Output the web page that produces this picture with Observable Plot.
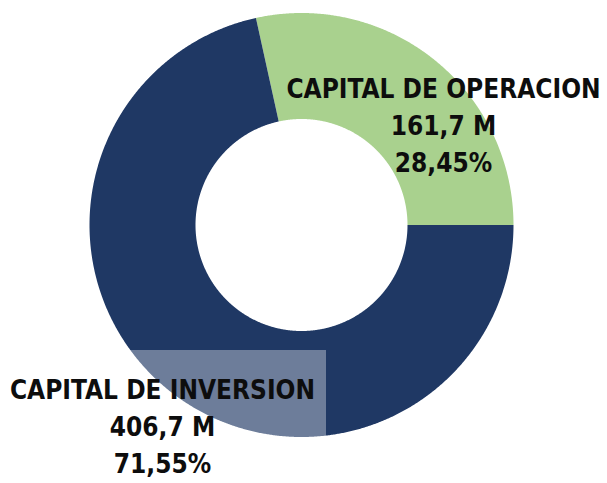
<!DOCTYPE html>
<html><head><meta charset="utf-8">
<script src="https://cdn.jsdelivr.net/npm/d3@7"></script>
<script src="https://cdn.jsdelivr.net/npm/@observablehq/plot@0.6"></script>
<style>html,body{margin:0;padding:0;background:#fff;overflow:hidden}</style>
</head><body><div id="chart"></div>
<script>
// ---- data ----
const categories = ["CAPITAL DE OPERACION", "CAPITAL DE INVERSION"];
const amounts = [161.7, 406.7];           // millions
const amountLabels = ["161,7 M", "406,7 M"];
const percentLabels = ["28,45%", "71,55%"];

// ---- layout / style ----
const colors = ["#a9d18e", "#1f3864"];
const W = 607, H = 483, cx = 301, cy = 224.5, R = 212, innerFrac = 0.5;
const labelAnchors = [[443, 123], [162, 424]]; // pixel centres of the labels
const boxHalf = [[0, 0], [164, 74]];            // label background half-size (px)
const boxOpacity = [0, 0.35];

const total = d3.sum(amounts);
const start = Math.PI / 2 - 2 * Math.PI * amounts[0] / total;
const arcs = d3.pie().sort(null).startAngle(start).endAngle(start + 2 * Math.PI)(amounts);

const pts = [];
arcs.forEach((a, i) => {
  const n = Math.max(4, Math.ceil((a.endAngle - a.startAngle) / 0.005));
  for (let k = 0; k <= n; k++) {
    const t = a.startAngle + (a.endAngle - a.startAngle) * k / n;
    pts.push({cat: categories[i], x: Math.sin(t), y: Math.cos(t)});
  }
  for (let k = n; k >= 0; k--) {
    const t = a.startAngle + (a.endAngle - a.startAngle) * k / n;
    pts.push({cat: categories[i], x: innerFrac * Math.sin(t), y: innerFrac * Math.cos(t)});
  }
});

const toX = px => (px - cx) / R, toY = py => (cy - py) / R;
const labels = categories.map((c, i) => ({
  cat: c,
  text: `${c}\n${amountLabels[i]}\n${percentLabels[i]}`,
  x: toX(labelAnchors[i][0]), y: toY(labelAnchors[i][1]),
  x1: toX(labelAnchors[i][0] - boxHalf[i][0]), x2: toX(labelAnchors[i][0] + boxHalf[i][0]),
  y1: toY(labelAnchors[i][1] - boxHalf[i][1]), y2: toY(labelAnchors[i][1] + boxHalf[i][1]),
  op: boxOpacity[i]
}));

const chart = Plot.plot({
  width: W, height: H, margin: 0,
  x: {domain: [toX(0), toX(W)], axis: null},
  y: {domain: [toY(H), toY(0)], axis: null},
  color: {domain: categories, range: colors},
  marks: [
    Plot.line(pts, {x: "x", y: "y", z: "cat", fill: "cat", stroke: null, curve: "linear-closed"}),
    Plot.rect(labels.filter(d => d.op > 0), {x1: "x1", x2: "x2", y1: "y1", y2: "y2", fill: "white", fillOpacity: d => d.op}),
    Plot.text(labels, {x: "x", y: "y", text: "text", fontSize: 26, fontWeight: "bold", lineHeight: 1.42,
      fontFamily: "'DejaVu Sans Condensed', 'DejaVu Sans', sans-serif", fill: "#0d0d0d"})
  ]
});
document.getElementById("chart").appendChild(chart);
</script>
</body></html>
